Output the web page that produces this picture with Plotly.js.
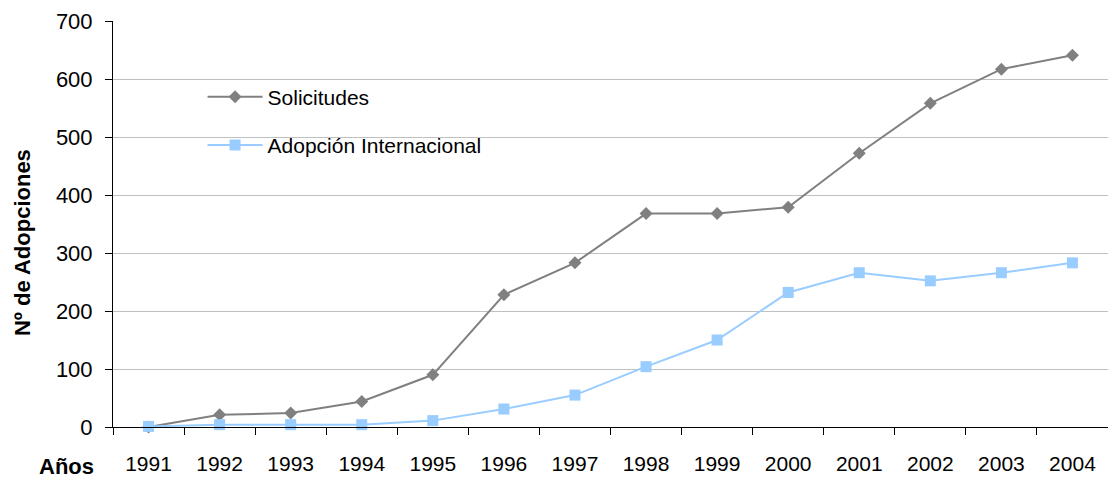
<!DOCTYPE html>
<html>
<head>
<meta charset="utf-8">
<script src="https://cdn.plot.ly/plotly-3.0.1.min.js"></script>
<style>html,body{margin:0;padding:0;background:#fff;}#chart{width:1108px;height:479px;}</style>
</head>
<body>
<div id="chart"></div>
<script>
const years = ["1991","1992","1993","1994","1995","1996","1997","1998","1999","2000","2001","2002","2003","2004"];
const solicitudes = [0, 21, 24, 44, 90, 228, 283, 368, 368, 379, 472, 558, 617, 641];
const adopcionInternacional = [1, 4, 4, 4, 11, 31, 55, 104, 150, 232, 266, 252, 266, 283];
const yTicks = [0, 100, 200, 300, 400, 500, 600, 700];

const FONT = "Liberation Sans, Arial, sans-serif";

const traces = [
  {
    x: years, y: solicitudes, name: "Solicitudes", type: "scatter", mode: "lines+markers",
    legendgroup: "a",
    line: {color: "#808080", width: 2},
    marker: {symbol: "diamond", size: 10, color: "#808080"},
    cliponaxis: false
  },
  {
    x: years, y: adopcionInternacional, name: "Adopción Internacional", type: "scatter", mode: "lines+markers",
    legendgroup: "b",
    line: {color: "#99CCFF", width: 2},
    marker: {symbol: "square", size: 11, color: "#99CCFF"},
    cliponaxis: false
  }
];

const layout = {
  width: 1108, height: 479,
  margin: {l: 113, r: 0, t: 21, b: 52},
  paper_bgcolor: "#fff", plot_bgcolor: "#fff",
  font: {family: FONT, size: 21, color: "#000"},
  showlegend: true,
  legend: {
    x: 0.09, y: 0.863, xanchor: "left", yanchor: "top",
    bgcolor: "rgba(255,255,255,0)",
    font: {family: FONT, size: 21, color: "#000"},
    traceorder: "grouped", tracegroupgap: 18,
    itemwidth: 55
  },
  xaxis: {
    type: "category",
    categoryorder: "array", categoryarray: years,
    range: [-0.5, 13.5],
    tickson: "boundaries",
    ticks: "outside", ticklen: 7, tickcolor: "#000", tickwidth: 1,
    showline: true, linecolor: "#000", linewidth: 1,
    showgrid: false, zeroline: false,
    tickfont: {family: FONT, size: 21, color: "#000"},
    ticklabelstandoff: 18,
    fixedrange: true
  },
  yaxis: {
    range: [0, 700],
    tickmode: "array", tickvals: yTicks, ticktext: yTicks.map(String),
    ticks: "outside", ticklen: 7, tickcolor: "#000", tickwidth: 1,
    showline: true, linecolor: "#000", linewidth: 1,
    showgrid: true, gridcolor: "#c0c0c0", gridwidth: 1,
    zeroline: false,
    tickfont: {family: FONT, size: 22, color: "#000"},
    ticklabelstandoff: 8,
    fixedrange: true
  },
  shapes: [
    {type: "rect", xref: "paper", yref: "paper", layer: "between",
     x0: 0.0303, x1: 0.4381, y0: 0.62, y1: 0.90,
     fillcolor: "#fff", line: {width: 0}}
  ],
  annotations: [
    {text: "<b>Nº de Adopciones</b>", xref: "paper", yref: "paper",
     x: (22 - 113) / 995.5, y: (427 - 243) / 406, textangle: -90,
     showarrow: false, xanchor: "center", yanchor: "middle",
     font: {family: FONT, size: 22, color: "#000"}},
    {text: "<b>Años</b>", xref: "paper", yref: "paper",
     x: (66 - 113) / 995.5, y: (427 - 466) / 406,
     showarrow: false, xanchor: "center", yanchor: "middle",
     font: {family: FONT, size: 22, color: "#000"}}
  ]
};

Plotly.newPlot("chart", traces, layout, {displayModeBar: false, staticPlot: true});
</script>
</body>
</html>
